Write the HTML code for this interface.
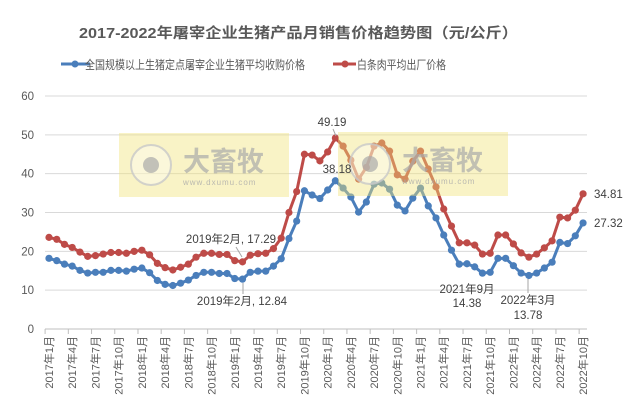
<!DOCTYPE html>
<html><head><meta charset="utf-8"><style>
body{margin:0;background:#fff;width:625px;height:404px;overflow:hidden}
svg{display:block;font-family:"Liberation Sans","Noto Sans CJK SC",sans-serif}
</style></head><body>
<svg id="s" width="625" height="404" viewBox="0 0 625 404" xmlns="http://www.w3.org/2000/svg">
<text x="79" y="38" textLength="439" lengthAdjust="spacingAndGlyphs" font-size="14.5" font-weight="bold" fill="#595959">2017-2022年屠宰企业生猪产品月销售价格趋势图（元/公斤）</text>
<line x1="61" y1="64" x2="90" y2="64" stroke="#4a7ebb" stroke-width="3"/><circle cx="75" cy="64" r="3.5" fill="#4a7ebb"/>
<text x="85" y="69" font-size="12" textLength="220" lengthAdjust="spacingAndGlyphs" fill="#595959">全国规模以上生猪定点屠宰企业生猪平均收购价格</text>
<line x1="333" y1="64" x2="356" y2="64" stroke="#be4b48" stroke-width="3"/><circle cx="345" cy="64" r="3.5" fill="#be4b48"/>
<text x="357" y="69" font-size="12" textLength="89" lengthAdjust="spacingAndGlyphs" fill="#595959">白条肉平均出厂价格</text>
<g id="g"></g>
</svg>
<script>
var NS="http://www.w3.org/2000/svg",g=document.getElementById('g');
function el(t,a,txt){var e=document.createElementNS(NS,t);for(var k in a)e.setAttribute(k,a[k]);if(txt)e.textContent=txt;g.appendChild(e);return e;}
function Y(v){return 329-3.883*v}function X(i){return 49+i*7.74}
for(var v=0;v<=60;v+=10){el('line',{x1:45,x2:587,y1:Y(v),y2:Y(v),stroke:'#d9d9d9','stroke-width':1});
el('text',{x:34,y:Y(v)+4,'text-anchor':'end','font-size':11.5,fill:'#595959'},String(v));}
el('line',{x1:45,x2:587,y1:329,y2:329,stroke:'#bfbfbf'});
for(var i=0;i<70;i+=3){var x=X(i);el('line',{x1:x-3.9,x2:x-3.9,y1:329,y2:334,stroke:'#bfbfbf'});
var yr=2017+Math.floor(i/12),m=i%12+1;
el('text',{transform:'translate('+(x+4)+',336) rotate(-90)','text-anchor':'end','font-size':11,fill:'#595959'},yr+'年'+m+'月');}
var B=[18.2,17.6,16.7,16.2,15.1,14.4,14.6,14.6,15.1,15.1,14.9,15.4,15.7,14.5,12.5,11.5,11.2,11.8,12.6,13.8,14.6,14.6,14.3,14.3,13.0,12.84,14.6,14.9,14.9,16.2,18.1,23.3,27.8,35.6,34.5,33.6,35.8,38.18,36.3,34.0,30.1,32.7,37.3,37.6,36.0,31.9,30.4,33.7,36.3,31.7,28.6,24.2,20.3,16.7,16.8,16.0,14.38,14.6,18.2,18.2,16.3,14.4,13.78,14.4,15.7,17.2,22.3,22.0,24.0,27.32];
var R=[23.6,23.1,21.8,21.0,19.8,18.7,18.9,19.3,19.7,19.7,19.5,20.0,20.3,19.1,16.9,15.8,15.2,15.9,16.7,18.5,19.5,19.5,19.2,19.2,17.6,17.29,19.0,19.4,19.5,20.7,23.4,30.0,35.4,45.0,44.8,43.3,45.6,49.19,47.1,43.5,38.6,41.6,47.1,47.9,45.8,39.7,38.6,43.2,45.8,41.2,36.6,30.9,26.5,22.2,22.2,21.6,19.3,19.5,24.2,24.2,21.9,19.6,18.5,19.3,20.9,22.7,28.8,28.6,30.6,34.81];
function series(d,c){el('polyline',{points:d.map(function(v,i){return X(i)+','+Y(v)}).join(' '),fill:'none',stroke:c,'stroke-width':3,'stroke-linejoin':'round'});
d.forEach(function(v,i){el('circle',{cx:X(i),cy:Y(v),r:3.6,fill:c})});}
series(B,'#4a7ebb');series(R,'#be4b48');
[[119,133],[338,132]].forEach(function(p){var x=p[0],y=p[1];
el('rect',{x:x,y:y,width:170,height:64,fill:'rgba(240,226,120,0.42)'});
el('circle',{cx:x+32,cy:y+32,r:20,fill:'rgba(255,255,255,0.35)',stroke:'rgba(200,200,200,0.8)','stroke-width':2});
el('circle',{cx:x+32,cy:y+32,r:8,fill:'rgba(170,170,170,0.7)'});
el('text',{x:x+64,y:y+38,'font-size':27,'font-weight':'bold',fill:'rgba(170,170,170,0.7)'},'大畜牧');
el('text',{x:x+64,y:y+52,'font-size':8,fill:'rgba(170,170,170,0.8)','letter-spacing':'1'},'www.dxumu.com');});
function t(x,y,s,a){el('text',{x:x,y:y,'font-size':11.5,fill:'#404040','text-anchor':a||'middle'},s);}
t(332,126,'49.19');el('line',{x1:333,y1:129,x2:336,y2:136,stroke:'#a6a6a6'});
t(337,173,'38.18');
t(594,198,'34.81','start');t(594,227,'27.32','start');
t(467,293,'2021年9月');t(467,307,'14.38');
t(528,304,'2022年3月');t(528,319,'13.78');el('line',{x1:528,y1:279,x2:528,y2:293,stroke:'#a6a6a6'});
t(231,243,'2019年2月, 17.29');el('line',{x1:236,y1:247,x2:242,y2:257,stroke:'#a6a6a6'});
t(242,305,'2019年2月, 12.84');el('line',{x1:243,y1:283,x2:243,y2:294,stroke:'#a6a6a6'});
</script>
</body></html>
